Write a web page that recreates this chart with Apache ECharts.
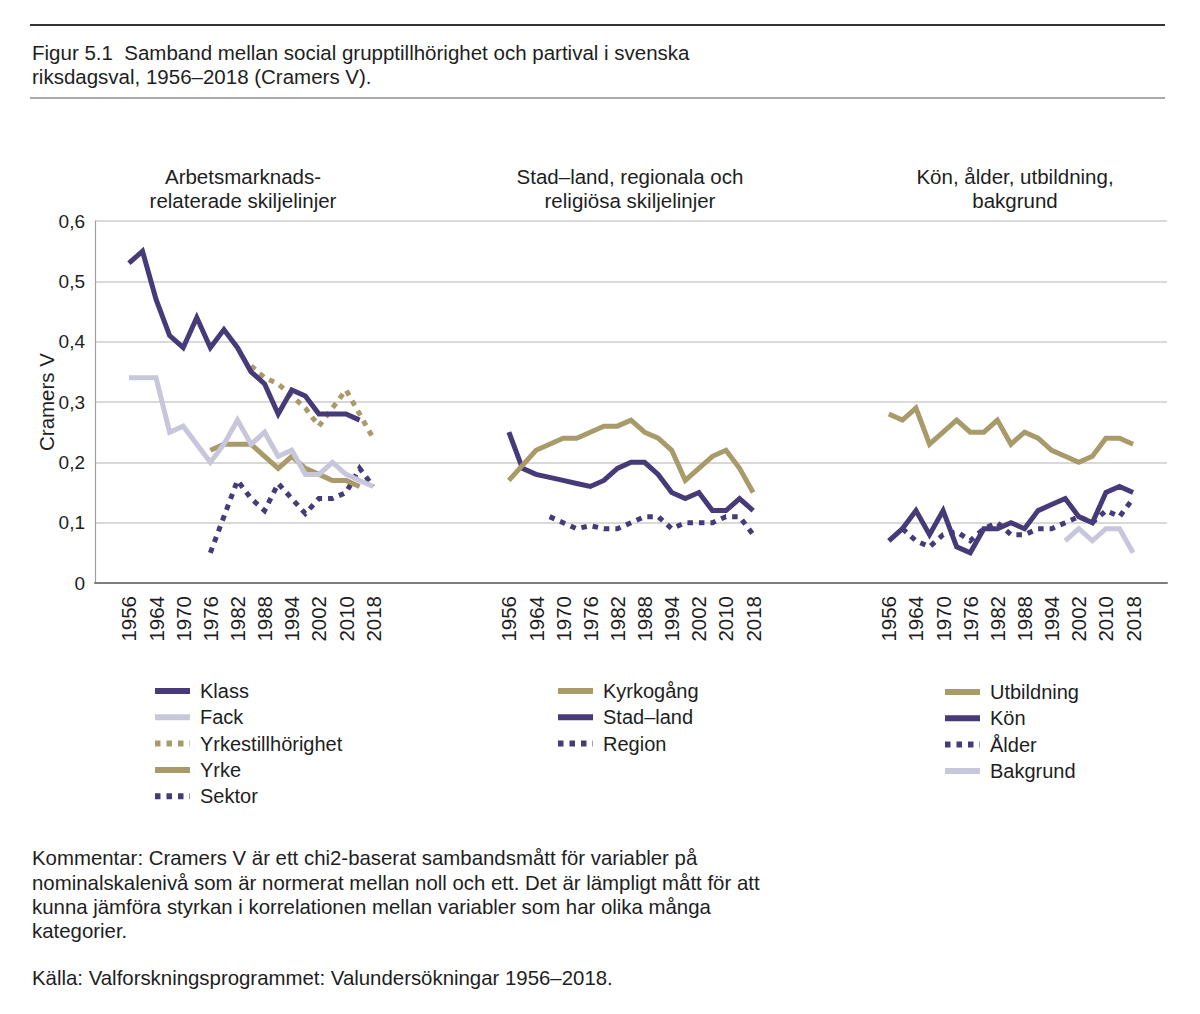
<!DOCTYPE html>
<html><head><meta charset="utf-8">
<script src="https://cdn.jsdelivr.net/npm/echarts@6/dist/echarts.min.js"></script>
<style>html,body{margin:0;padding:0;background:#fff}#c{width:1200px;height:1014px}</style>
</head><body><div id="c"></div>
<script>
// ---- data ----
const years = [1956,1960,1964,1968,1970,1973,1976,1979,1982,1985,1988,1991,1994,1998,2002,2006,2010,2014,2018];
const tickLabels = ['1956','1964','1970','1976','1982','1988','1994','2002','2010','2018'];
const yTicks = ['0','0,1','0,2','0,3','0,4','0,5','0,6'];
const panelTitles = [['Arbetsmarknads-','relaterade skiljelinjer'],['Stad\u2013land, regionala och','religiösa skiljelinjer'],['Kön, ålder, utbildning,','bakgrund']];

// Panel 1
const klass = [0.53,0.55,0.47,0.41,0.39,0.44,0.39,0.42,0.39,0.35,0.33,0.28,0.32,0.31,0.28,0.28,0.28,0.27,null];
const fack = [0.34,0.34,0.34,0.25,0.26,0.23,0.20,0.23,0.27,0.23,0.25,0.21,0.22,0.18,0.18,0.20,0.18,0.17,0.16];
const yrkestillhorighet = [null,null,null,null,null,null,null,null,null,0.36,0.34,0.33,0.31,0.29,0.26,0.29,0.32,0.28,0.24];
const yrke = [null,null,null,null,null,null,0.22,0.23,0.23,0.23,0.21,0.19,0.21,0.19,0.18,0.17,0.17,0.16,null];
const sektor = [null,null,null,null,null,null,0.05,0.11,0.17,0.14,0.12,0.165,0.14,0.115,0.14,0.14,0.15,0.19,0.16];
// Panel 2
const kyrkogang = [0.17,0.195,0.22,0.23,0.24,0.24,0.25,0.26,0.26,0.27,0.25,0.24,0.22,0.17,0.19,0.21,0.22,0.19,0.15];
const stadLand = [0.25,0.19,0.18,0.175,0.17,0.165,0.16,0.17,0.19,0.20,0.20,0.18,0.15,0.14,0.15,0.12,0.12,0.14,0.12];
const region = [null,null,null,0.11,0.10,0.09,0.095,0.09,0.09,0.10,0.11,0.11,0.09,0.10,0.10,0.10,0.11,0.11,0.08];
// Panel 3
const utbildning = [0.28,0.27,0.29,0.23,0.25,0.27,0.25,0.25,0.27,0.23,0.25,0.24,0.22,0.21,0.20,0.21,0.24,0.24,0.23];
const kon = [0.07,0.09,0.12,0.08,0.12,0.06,0.05,0.09,0.09,0.10,0.09,0.12,0.13,0.14,0.11,0.10,0.15,0.16,0.15];
const alder = [null,0.09,0.07,0.06,0.08,0.085,0.07,0.09,0.10,0.08,0.08,0.09,0.09,0.10,0.11,0.10,0.12,0.11,0.14];
const bakgrund = [null,null,null,null,null,null,null,null,null,null,null,null,null,0.07,0.09,0.07,0.09,0.09,0.05];

const legend1 = ['Klass','Fack','Yrkestillhörighet','Yrke','Sektor'];
const legend2 = ['Kyrkogång','Stad\u2013land','Region'];
const legend3 = ['Utbildning','Kön','Ålder','Bakgrund'];

// ---- styling ----
const PURPLE = '#463a78', TAN = '#a99a6a', LAV = '#c8c6da';
const FONT = '"Liberation Sans", Arial, sans-serif';
const TXT = '#1e1e1e';

// axis layout: 2 pad + 19 + 9 gap + 19 + 9 gap + 19 + 2 pad
const PAD = 2, GAP = 9, N = years.length;
const offsets = [PAD, PAD + N + GAP, PAD + 2 * (N + GAP)];
const total = PAD * 2 + N * 3 + GAP * 2;
const cats = [], labelAt = {};
for (let k = 0; k < total; k++) cats.push('c' + k);
offsets.forEach(o => { years.forEach((y, i) => { if (i % 2 === 0) labelAt[o + i] = tickLabels[i / 2]; }); });

function place(panel, arr) {
  const out = new Array(total).fill(null);
  arr.forEach((v, i) => { out[offsets[panel] + i] = v; });
  return out;
}
function line(name, panel, arr, color, dotted) {
  return {
    name, type: 'line', data: place(panel, arr), symbol: 'none', showSymbol: false,
    connectNulls: false, silent: true,
    lineStyle: { color, width: 5, type: dotted ? [5.5, 6] : 'solid', cap: 'butt', join: 'miter' },
    itemStyle: { color }
  };
}

const series = [
  line('Sektor', 0, sektor, PURPLE, true),
  line('Yrkestillhörighet', 0, yrkestillhorighet, TAN, true),
  line('Yrke', 0, yrke, TAN, false),
  line('Fack', 0, fack, LAV, false),
  line('Klass', 0, klass, PURPLE, false),
  line('Region', 1, region, PURPLE, true),
  line('Stad\u2013land', 1, stadLand, PURPLE, false),
  line('Kyrkogång', 1, kyrkogang, TAN, false),
  line('Bakgrund', 2, bakgrund, LAV, false),
  line('Ålder', 2, alder, PURPLE, true),
  line('Kön', 2, kon, PURPLE, false),
  line('Utbildning', 2, utbildning, TAN, false)
];

function legend(data, left, top) {
  return {
    data, left, top, orient: 'vertical', itemWidth: 35, itemHeight: 20, itemGap: 6.3,
    padding: 0, selectedMode: false,
    lineStyle: { width: 6 },
    itemStyle: { opacity: 0 },
    textStyle: { fontSize: 20, fontFamily: FONT, color: TXT, padding: [0, 0, 0, 5] }
  };
}

const graphic = [];
function txt(text, x, y, size, align) {
  graphic.push({ type: 'text', x, y, silent: true,
    style: { text, fontSize: size, fontFamily: FONT, fill: TXT, textAlign: align || 'left', textVerticalAlign: 'middle' } });
}
graphic.push({ type: 'line', silent: true, shape: { x1: 30, y1: 25, x2: 1165, y2: 25 }, style: { stroke: '#333', lineWidth: 2 } });
graphic.push({ type: 'line', silent: true, shape: { x1: 30, y1: 98, x2: 1165, y2: 98 }, style: { stroke: '#555', lineWidth: 1.2 } });
txt('Figur 5.1\u00a0\u00a0Samband mellan social grupptillhörighet och partival i svenska', 32, 52, 20.5);
txt('riksdagsval, 1956\u20132018 (Cramers V).', 32, 76, 20.5);
const headX = [243, 630, 1015];
panelTitles.forEach((t, p) => { txt(t[0], headX[p], 176, 20.5, 'center'); txt(t[1], headX[p], 200, 20.5, 'center'); });
txt('Kommentar: Cramers V är ett chi2-baserat sambandsmått för variabler på', 32, 858, 20.4);
txt('nominalskalenivå som är normerat mellan noll och ett. Det är lämpligt mått för att', 32, 883, 20.4);
txt('kunna jämföra styrkan i korrelationen mellan variabler som har olika många', 32, 907, 20.4);
txt('kategorier.', 32, 931, 20.4);
txt('Källa: Valforskningsprogrammet: Valundersökningar 1956\u20132018.', 32, 978, 20.4);

const chart = echarts.init(document.getElementById('c'), null, { renderer: 'svg' });
chart.setOption({
  animation: false,
  backgroundColor: '#fff',
  grid: { left: 95, right: 33, top: 221, bottom: 431, containLabel: false },
  xAxis: {
    type: 'category', data: cats, boundaryGap: true,
    axisLine: { show: true, lineStyle: { color: '#7d7d7d', width: 2 } },
    axisTick: { show: false },
    splitLine: { show: false },
    axisLabel: { interval: 0, rotate: 90, margin: 13, fontSize: 20.5, fontFamily: FONT, color: TXT,
      formatter: (v, idx) => labelAt[idx] || '' }
  },
  yAxis: {
    type: 'value', min: 0, max: 0.6, interval: 0.1,
    name: 'Cramers V', nameLocation: 'middle', nameGap: 38, nameRotate: 90, nameMoveOverlap: false,
    nameTextStyle: { fontSize: 20.5, fontFamily: FONT, color: TXT },
    axisLine: { show: true, lineStyle: { color: '#a0a0a0', width: 1.2 } },
    axisTick: { show: false },
    splitLine: { show: true, lineStyle: { color: '#cccccc', width: 1.5 } },
    axisLabel: { margin: 10, fontSize: 19, fontFamily: FONT, color: TXT,
      formatter: v => yTicks[Math.round(v * 10)] }
  },
  legend: [legend(legend1, 152, 681), legend(legend2, 555, 681), legend(legend3, 942, 682)],
  graphic,
  series
});
</script></body></html>
